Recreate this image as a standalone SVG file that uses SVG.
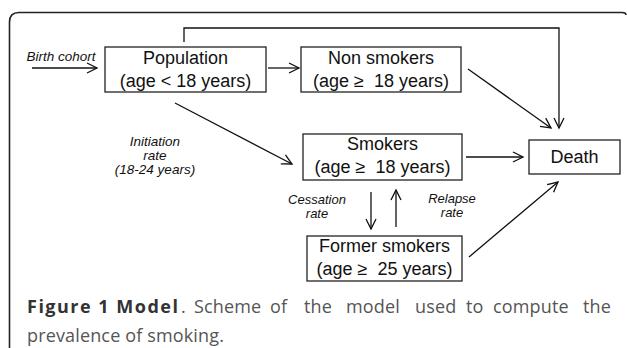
<svg xmlns="http://www.w3.org/2000/svg" width="627" height="348" viewBox="0 0 627 348">
<defs>
<marker id="arr" markerUnits="userSpaceOnUse" markerWidth="14" markerHeight="14" refX="11" refY="6" orient="auto">
<path d="M1,1 L11,6 L1,11" fill="none" stroke="#111" stroke-width="1.3"/>
</marker>
<style>
.box{fill:#fff;stroke:#222;stroke-width:1.3}
.t{font-family:"Liberation Sans",Arial,sans-serif;font-size:18px;fill:#111;text-anchor:middle}
.i{font-family:"Liberation Sans",Arial,sans-serif;font-size:13.5px;font-style:italic;fill:#111;text-anchor:middle}
.s{font-size:13px}
.c{fill:none;stroke:#111;stroke-width:1.3}
.cap{font-family:"Open Sans",sans-serif;font-size:18px;fill:#555;letter-spacing:0.15px}
.capb{font-weight:bold;fill:#333;letter-spacing:1.5px}
</style>
</defs>
<rect width="627" height="348" fill="#fff"/>
<path d="M9.5,348 V22 Q9.5,12.5 19,12.5 H622 Q626,12.5 626,15" fill="none" stroke="#222" stroke-width="1.6"/>
<g id="connectors">
<path class="c" d="M32,68 H97" marker-end="url(#arr)"/>
<path class="c" d="M268,68 H299" marker-end="url(#arr)"/>
<path class="c" d="M184,42 V28 H559 V128" marker-end="url(#arr)"/>
<path class="c" d="M468,69 L551,128" marker-end="url(#arr)"/>
<path class="c" d="M175,103 L292,164" marker-end="url(#arr)"/>
<path class="c" d="M466,157 H523" marker-end="url(#arr)"/>
<path class="c" d="M469,257 L558,182" marker-end="url(#arr)"/>
<path class="c" d="M371,192 V229" marker-end="url(#arr)"/>
<path class="c" d="M396,227 V190" marker-end="url(#arr)"/>
</g>
<g id="labels">
<text class="i" x="61" y="61">Birth cohort</text>
<text class="i" x="155" y="146">Initiation</text>
<text class="i" x="155" y="160">rate</text>
<text class="i" x="155" y="174">(18-24 years)</text>
<text class="i s" x="317" y="204">Cessation</text>
<text class="i s" x="317" y="218">rate</text>
<text class="i s" x="452" y="203">Relapse</text>
<text class="i s" x="452" y="217">rate</text>
</g>
<g id="population">
<rect class="box" x="105" y="47" width="161" height="45"/>
<text class="t" x="185.5" y="64">Population</text>
<text class="t" x="185.5" y="87">(age &lt; 18 years)</text>
</g>
<g id="nonsmokers">
<rect class="box" x="301" y="47" width="160" height="45"/>
<text class="t" x="381" y="64">Non smokers</text>
<text class="t" x="381" y="87" xml:space="preserve">(age ≥  18 years)</text>
</g>
<g id="smokers">
<rect class="box" x="303" y="134" width="159" height="46"/>
<text class="t" x="382.5" y="150">Smokers</text>
<text class="t" x="382.5" y="173" xml:space="preserve">(age ≥  18 years)</text>
</g>
<g id="death">
<rect class="box" x="529" y="140" width="91" height="34"/>
<text class="t" x="574.5" y="163">Death</text>
</g>
<g id="formersmokers">
<rect class="box" x="307" y="236" width="155" height="45"/>
<text class="t" x="384.5" y="252">Former smokers</text>
<text class="t" x="384.5" y="275" xml:space="preserve">(age ≥  25 years)</text>
</g>
<g id="caption">
<text class="cap" y="313"><tspan class="capb" x="27">Figure 1 Model</tspan><tspan x="181">.</tspan><tspan x="194">Scheme</tspan><tspan x="270">of</tspan><tspan x="304">the</tspan><tspan x="346">model</tspan><tspan x="415">used</tspan><tspan x="466">to</tspan><tspan x="493">compute</tspan><tspan x="583">the</tspan></text>
<text class="cap" x="27" y="342">prevalence of smoking.</text>
</g>
</svg>
